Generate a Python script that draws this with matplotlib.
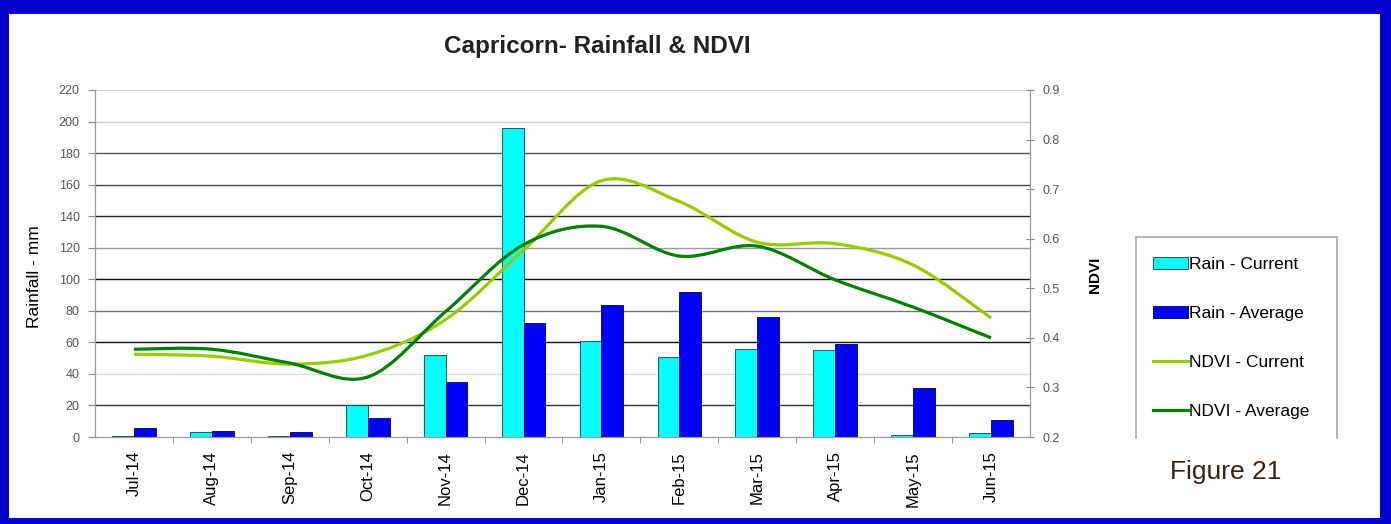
"""
Capricorn rainfall (bars) and NDVI (smoothed lines), Jul-14 to Jun-15.
"""

import numpy as np
import matplotlib.pyplot as plt
from matplotlib.path import Path
from matplotlib.patches import PathPatch, Rectangle, Patch
from matplotlib.lines import Line2D

plt.rcParams["font.family"] = ["Liberation Sans", "DejaVu Sans"]

# ---------------------------------------------------------------------------
# Data
# ---------------------------------------------------------------------------
months = ["Jul-14", "Aug-14", "Sep-14", "Oct-14", "Nov-14", "Dec-14",
          "Jan-15", "Feb-15", "Mar-15", "Apr-15", "May-15", "Jun-15"]
rain_current = [0.5, 3, 0.5, 20, 52, 196, 61, 51, 56, 55, 1.5, 2.5]
rain_average = [5.5, 4, 3, 12, 35, 72, 84, 92, 76, 59, 31, 11]
ndvi_current = [0.367, 0.363, 0.347, 0.365, 0.437, 0.577, 0.717, 0.675, 0.593, 0.590, 0.547, 0.440]
ndvi_average = [0.377, 0.377, 0.349, 0.321, 0.453, 0.588, 0.625, 0.565, 0.585, 0.517, 0.462, 0.400]

rain_ticks = list(range(0, 221, 20))
ndvi_ticks = [0.2, 0.3, 0.4, 0.5, 0.6, 0.7, 0.8, 0.9]

# grid line shades (the source has uneven, blurry gridlines)
grid_shades = ["#888888", "#333333", "#dddddd", "#111111", "#777777", "#111111",
               "#999999", "#222222", "#444444", "#555555", "#cccccc"]

CYAN = "#00FFFF"
BLUE = "#0000FF"
LIGHT_GREEN = "#99CC00"
DARK_GREEN = "#008000"


def smooth_path(xs, ys):
    """Excel-like smoothed line: cubic Bezier segments (Catmull-Rom)."""
    pts = np.column_stack([xs, ys]).astype(float)
    n = len(pts)
    verts = [pts[0]]
    codes = [Path.MOVETO]
    for i in range(n - 1):
        p0 = pts[max(i - 1, 0)]
        p1 = pts[i]
        p2 = pts[i + 1]
        p3 = pts[min(i + 2, n - 1)]
        c1 = p1 + (p2 - p0) / 6.0
        c2 = p2 - (p3 - p1) / 6.0
        verts += [c1, c2, p2]
        codes += [Path.CURVE4] * 3
    return Path(verts, codes)


fig = plt.figure(figsize=(13.91, 5.24), dpi=100, facecolor="#0000CC")
# white panel inside the blue frame
fig.patches.append(Rectangle((9 / 1391, 1 - 518 / 524), (1380 - 9) / 1391, (518 - 14) / 524,
                             transform=fig.transFigure, facecolor="white",
                             edgecolor="none", zorder=-5))

ax = fig.add_axes([95 / 1391, 1 - 437 / 524, (1030 - 95) / 1391, (437 - 90) / 524])
ax.set_facecolor("none")
ax2 = ax.twinx()

x = np.arange(len(months))
w = 0.28
ax.bar(x - w / 2, rain_current, w, color=CYAN, edgecolor="#1a3a3a", linewidth=0.6, zorder=3)
ax.bar(x + w / 2, rain_average, w, color=BLUE, edgecolor="#000044", linewidth=0.6, zorder=3)

for t, c in zip(rain_ticks[1:], grid_shades[1:]):
    ax.axhline(t, color=c, linewidth=1.0, zorder=1)
ax.axhline(220, color="#d8d8d8", linewidth=1.5, zorder=1)

ax.set_xlim(-0.5, len(months) - 0.5)
ax.set_ylim(0, 220)
ax.set_yticks(rain_ticks)
ax.tick_params(axis="y", labelsize=9, labelcolor="#555555", color="#888888", length=5, pad=6)
ax.set_xticks(x)
ax.set_xticklabels(months, rotation=90, fontsize=12)
ax.tick_params(axis="x", length=0, pad=10)
ax.set_xticks(np.arange(0.5, len(months) - 0.5, 1), minor=True)
ax.tick_params(axis="x", which="minor", length=4, color="#888888")
ax.text(-0.0652, 0.461, "Rainfall - mm", transform=ax.transAxes, rotation=90,
        ha="center", va="center", fontsize=12.5)

for side in ["left", "bottom", "right"]:
    ax.spines[side].set_color("#999999")
    ax2.spines[side].set_color("#999999")
ax.spines["top"].set_visible(False)
ax2.spines["top"].set_visible(False)

ax2.add_patch(PathPatch(smooth_path(x, ndvi_current), fill=False, edgecolor=LIGHT_GREEN,
                        linewidth=2.3, zorder=4))
ax2.add_patch(PathPatch(smooth_path(x, ndvi_average), fill=False, edgecolor=DARK_GREEN,
                        linewidth=2.3, zorder=4))
ax2.set_ylim(0.2, 0.9)
ax2.set_yticks(ndvi_ticks)
ax2.set_yticklabels([f"{t:.1f}" for t in ndvi_ticks])
ax2.tick_params(axis="y", labelsize=9, labelcolor="#555555", color="#888888",
                direction="inout", length=6, pad=6)
ax2.text(1.0695, 0.467, "NDVI", transform=ax2.transAxes, rotation=90,
         ha="center", va="center", fontsize=11, fontweight="bold")

fig.text(597 / 1391, 1 - 47 / 524, "Capricorn- Rainfall & NDVI", ha="center", va="center",
         fontsize=17.5, fontweight="bold", color="#222222")

handles = [Patch(facecolor=CYAN, edgecolor="#1a3a3a", linewidth=0.6),
           Patch(facecolor=BLUE, edgecolor="#000044", linewidth=0.6),
           Line2D([], [], color=LIGHT_GREEN, linewidth=2.3),
           Line2D([], [], color=DARK_GREEN, linewidth=2.3)]
labels = ["Rain - Current", "Rain - Average", "NDVI - Current", "NDVI - Average"]
fig.legend(handles, labels, loc="upper left", bbox_to_anchor=(1146 / 1391, 1 - 250 / 524),
           frameon=False, fontsize=12.5, labelspacing=1.95, handlelength=2.0,
           handletextpad=0.05, borderaxespad=0)

# legend box (open at the bottom, as in the source)
bx0, bx1, by0, by1 = 1136 / 1391, 1337 / 1391, 1 - 438 / 524, 1 - 237 / 524
for xs_, ys_ in [([bx0, bx1], [by1, by1]), ([bx0, bx0], [by0, by1]), ([bx1, bx1], [by0, by1])]:
    fig.add_artist(Line2D(xs_, ys_, transform=fig.transFigure, color="#aaaaaa", linewidth=1.2))

fig.text(1226 / 1391, 1 - 472 / 524, "Figure 21", ha="center", va="center",
         fontsize=19, color="#3b2314")

fig.savefig("out.png", dpi=100, facecolor=fig.get_facecolor())
